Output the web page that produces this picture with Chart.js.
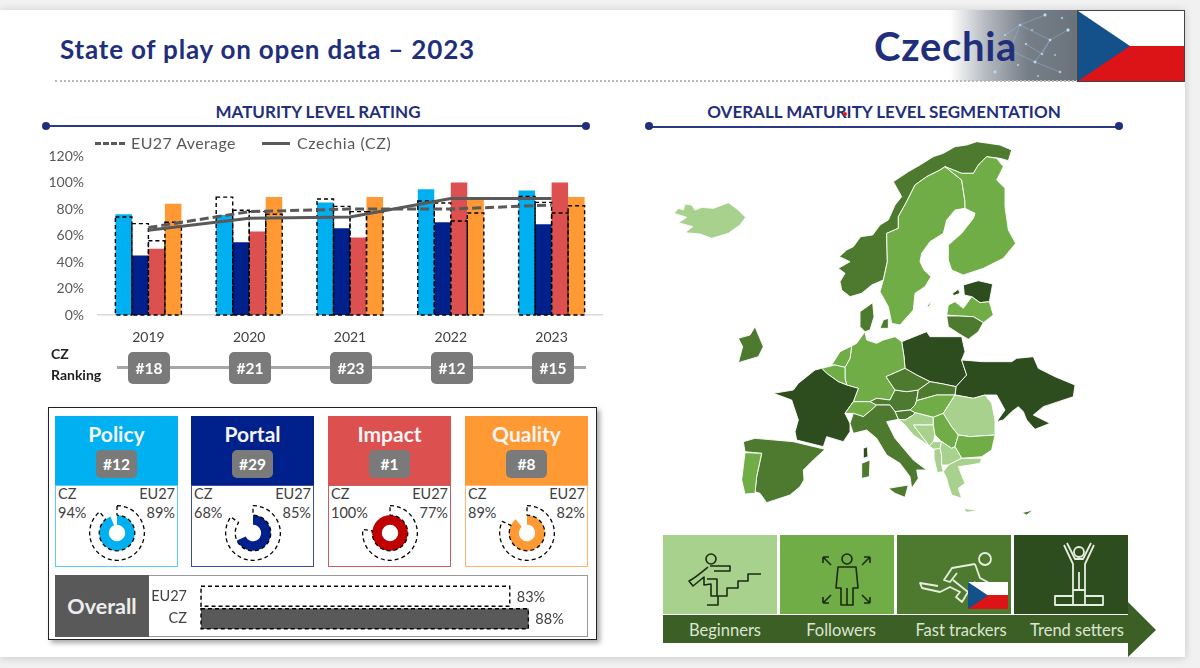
<!DOCTYPE html>
<html><head><meta charset="utf-8">
<script src="https://cdn.jsdelivr.net/npm/chart.js@4/dist/chart.umd.min.js"></script>
<style>
*{box-sizing:border-box}
html,body{margin:0;padding:0;width:1200px;height:668px;overflow:hidden;background:#f1f1f1;font-family:Lato,sans-serif}
.abs,canvas{position:absolute}
#card{position:absolute;left:0;top:10px;width:1185px;height:647px;background:#fff;box-shadow:0 1px 8px rgba(0,0,0,.18)}
.t{position:absolute;white-space:nowrap;line-height:1}
.head{color:#1F2F7C;font-weight:700;font-size:17px;text-align:center}
.rule{position:absolute;height:2px;background:#2A3A85}
.dot{position:absolute;width:8px;height:8px;border-radius:50%;background:#1F2F7C}
.badge{position:absolute;background:#7A7A7A;color:#fff;font-weight:700;border-radius:5px;display:flex;align-items:center;justify-content:center}
.cardhd{position:absolute;height:69px;width:123px;top:416px}
.cardbd{position:absolute;height:82px;width:123px;top:485px;background:#fff;border:1px solid}
.lab{position:absolute;font-size:14.5px;color:#404040;white-space:nowrap;line-height:1}
.seg{position:absolute;top:535px;height:79px;width:114px}
.segl{position:absolute;top:622px;color:#DCE6D2;font-size:16.5px;white-space:nowrap;transform:translateX(-50%);line-height:1}
</style></head><body>
<div id="card"></div>

<div class="t" style="left:60px;top:36px;font-size:26px;font-weight:700;color:#1F2F7C;letter-spacing:.8px">State of play on open data – 2023</div>
<div class="abs" style="left:950px;top:10px;width:128px;height:71px;background:linear-gradient(90deg,#fff 0%,#b5bac0 28%,#767e88 60%,#6a727c 100%)"></div>
<svg class="abs" style="left:950px;top:10px" width="128" height="71"><g stroke="#9fc6e8" stroke-width=".4" fill="#c4e3fb"><path d="M45 62L60 40L85 52L100 30L118 20M60 40L70 15L100 30M85 52L110 62M70 15L95 5M55 25L70 15M92 44L100 30M76 34L92 44" fill="none"/><circle cx="45" cy="62" r="1.4"/><circle cx="60" cy="40" r="1.1"/><circle cx="85" cy="52" r="1.3"/><circle cx="100" cy="30" r="1.2"/><circle cx="118" cy="20" r="1.5"/><circle cx="70" cy="15" r="1.1"/><circle cx="95" cy="5" r="1.4"/><circle cx="110" cy="62" r="1.1"/><circle cx="76" cy="34" r="1"/><circle cx="92" cy="44" r="1"/><circle cx="55" cy="25" r=".9"/><circle cx="82" cy="20" r=".8"/><circle cx="105" cy="45" r=".8"/><circle cx="68" cy="55" r=".9"/><circle cx="112" cy="8" r=".9"/><circle cx="88" cy="66" r=".8"/></g></svg>
<div class="t" style="left:874px;top:26px;font-size:40px;font-weight:700;color:#1F2F7C;letter-spacing:.7px">Czechia</div>
<div class="abs" style="left:55px;top:80px;width:1023px;border-top:2px dotted #b8b8b8"></div>
<svg class="abs" style="left:1077px;top:10px" width="108" height="72"><rect x="1" y="1" width="106" height="70" fill="#fff"/><rect x="1" y="36" width="106" height="35" fill="#DC1418"/><path d="M1 1L53 36L1 71Z" fill="#14508A"/><rect x=".5" y=".5" width="107" height="71" fill="none" stroke="#444"/></svg>

<div class="t head" style="left:46px;width:544px;top:103px">MATURITY LEVEL RATING</div>
<div class="rule" style="left:46px;width:540px;top:125px"></div><div class="dot" style="left:42px;top:122px"></div><div class="dot" style="left:582px;top:122px"></div>
<div class="t head" style="left:649px;width:470px;top:103px">OVERALL MATURITY LEVEL SEGMENTATION</div>
<div class="rule" style="left:649px;width:470px;top:126px"></div><div class="dot" style="left:645px;top:122px"></div><div class="dot" style="left:1115px;top:122px"></div>
<div class="abs" style="left:843px;top:112px;width:4px;height:4px;border-radius:50%;background:#d02020"></div>

<canvas id="main" style="left:40px;top:146px" width="570" height="200"></canvas>
<div class="abs" style="left:95px;top:142px;width:30px;border-top:3px dashed #595959"></div>
<div class="t" style="left:131px;top:135px;font-size:16px;color:#595959;letter-spacing:.4px">EU27 Average</div>
<div class="abs" style="left:262px;top:142px;width:28px;height:3px;background:#595959"></div>
<div class="t" style="left:297px;top:135px;font-size:16px;color:#595959;letter-spacing:.6px">Czechia (CZ)</div>

<div class="t" style="left:51px;top:347px;font-size:14px;font-weight:700;color:#222">CZ</div>
<div class="t" style="left:51px;top:368px;font-size:14px;font-weight:700;color:#222">Ranking</div>
<div class="abs" style="left:117px;top:366px;width:469px;height:3px;background:#A6A6A6"></div>
<div id="ranks"></div>

<div class="abs" style="left:48px;top:407px;width:549px;height:233px;background:#fff;border:1.5px solid #222;box-shadow:3px 3px 5px rgba(0,0,0,.35)"></div>
<div id="cards"></div>

<div class="abs" style="left:55px;top:575px;width:533px;height:62px;border:1px solid #999;background:#fff"></div>
<div class="abs" style="left:55px;top:575px;width:94px;height:62px;background:#595959;color:#EDEDED;font-weight:700;font-size:21.5px;display:flex;align-items:center;justify-content:center">Overall</div>
<canvas id="overall" style="left:150px;top:585px" width="423" height="45"></canvas>

<canvas id="map" style="left:650px;top:130px" width="450" height="400"></canvas>

<div class="seg" style="left:663px;background:#A9D18E"></div>
<div class="seg" style="left:780px;background:#70AD47"></div>
<div class="seg" style="left:897px;background:#4E7A2F"></div>
<div class="seg" style="left:1014px;background:#2E4D1E"></div>
<svg class="abs" style="left:660px;top:530px" width="500" height="135">
 <path d="M3 85H468V72L496 100L468 127V113H3Z" fill="#3C5F26"/>
 <g fill="none" stroke="#1c2a12" stroke-width="1.6" stroke-linejoin="round">
  <circle cx="51" cy="29" r="5"/><path d="M47 75H58V66H67V58H78V51H88V44H101"/>
  <path d="M48 37C42 42 35 48 29 51L33 56L44 47V55L51 54V66H57V49H47M50 36H70V41H54"/>
  <circle cx="187" cy="29" r="5"/><path d="M178 37H196L198 58H193V75H181V58H176ZM187 58V75"/><path d="M163 27L171 35M163 27H169M163 27V33M210 27L202 35M210 27H204M210 27V33M163 73L171 65M163 73H169M163 73V67M210 73L202 65M210 73H204M210 73V67"/>
 </g>
 <g fill="none" stroke="#E6EEDF" stroke-width="1.8" stroke-linejoin="round">
  <circle cx="325" cy="29" r="6"/><path d="M315 34L292 38L284 50L290 52L297 43M315 34L320 48L333 55L331 59L314 52M293 50L308 62L302 72L296 67L300 62L290 57L280 62L262 58L260 53L278 56"/>
  <circle cx="419" cy="22" r="5"/><path d="M404 15L413 34V60H425V34L434 15M407 13L415 29H423L431 13M419 42V60M413 60H425V75H413ZM413 66H395V75H443V66H425"/>
 </g>
</svg>
<svg class="abs" style="left:968px;top:582px" width="40" height="27"><rect width="40" height="27" fill="#fff"/><rect y="13" width="40" height="14" fill="#DC1418"/><path d="M0 0L20 13.5L0 27Z" fill="#14508A"/></svg>
<div class="segl" style="left:725px">Beginners</div><div class="segl" style="left:841px">Followers</div><div class="segl" style="left:961px">Fast trackers</div><div class="segl" style="left:1077px">Trend setters</div>

<script>
// ---- data ----
const years = ['2019','2020','2021','2022','2023'];
const yTicks = [0,20,40,60,80,100,120];
const czPolicy  = [76,75.5,85,95,94];
const czPortal  = [45,55,65.5,70,68.5];
const czImpact  = [50,63,58.5,100,100];
const czQuality = [84,89,89,88,89];
const euPolicy  = [74,89,87.5,86,89.5];
const euPortal  = [69,79,82,84.5,85];
const euImpact  = [56,78,78,71,77];
const euQuality = [70,76,78,77,82.5];
const euAverage = [66,78,80,80,83];
const czOverall = [64,73,74,88,88];
const ranks = ['#18','#21','#23','#12','#15'];
const dims = ['Policy','Portal','Impact','Quality'];
const dimRanks = ['#12','#29','#1','#8'];
const dimCz = [94,68,100,89];
const dimEu = [89,85,77,82];
const overallLabels = ['EU27','CZ'];
const overallVals = [83,88];

// traced country outlines in map units (one unit = 1/3 px)
const mapLight = '#A9D18E', mapMid = '#70AD47', mapDark = '#4E7A2F', mapDeep = '#2E4D1E';
const iceland = [72,250,85,235,100,240,105,222,125,225,135,240,155,232,190,235,235,218,265,240,287,262,270,285,235,310,185,325,150,312,105,308,128,290,85,278,110,262];
const norway = [600,500,575,480,570,455,585,430,565,415,600,395,568,380,590,360,610,350,632,320,668,315,690,285,715,270,735,225,755,200,730,155,775,125,810,105,850,80,880,70,915,50,950,45,980,35,1015,40,1050,45,1085,60,1075,92,1050,85,1010,80,985,105,970,130,935,130,885,110,870,120,830,140,795,165,770,215,745,260,745,295,710,310,712,395,700,450,665,465,635,490];
const sweden = [745,295,745,260,770,215,795,165,830,140,870,120,885,110,935,150,945,215,945,235,915,240,890,270,880,310,840,335,815,370,810,395,822,420,843,440,825,470,795,490,790,540,750,585,725,580,715,530,690,485,700,450,712,395,710,310];
const finland = [885,110,935,130,970,130,985,105,1010,80,1040,85,1060,110,1040,150,1065,175,1065,230,1075,300,1097,340,1060,385,1000,415,940,435,905,420,895,390,895,345,935,310,970,265,975,250,945,235,945,215,935,150];
const gotland = [830,530,845,510,838,530];
const estonia = [940,465,985,452,1028,462,1018,515,990,518,965,500,943,495];
const saaremaa = [908,490,925,478,930,490,910,497];
const latvia = [890,555,895,525,915,515,940,535,965,500,990,518,1018,515,1030,555,1000,578,970,560,925,558];
const lithuania = [890,558,925,558,970,560,1000,578,985,605,955,628,925,610,895,590];
const poland = [755,635,830,605,840,620,935,620,945,665,935,690,950,735,918,770,880,762,840,755,800,735,765,715,762,680];
const ukraine = [935,690,1000,695,1085,695,1100,685,1150,680,1165,715,1215,740,1275,765,1270,800,1225,815,1180,830,1150,855,1200,880,1155,898,1130,870,1120,845,1105,830,1085,845,1060,870,1040,875,1065,840,1040,795,1005,795,970,805,915,795,918,770,950,735];
const germany = [645,605,650,630,680,640,700,630,735,620,755,635,762,680,765,715,708,740,735,780,720,810,680,805,660,815,610,815,625,775,590,765,585,745,585,712,600,685,605,648,620,640];
const denmark = [630,590,630,545,668,518,672,560,660,600,645,605];
const zealand = [690,595,700,570,715,565,715,595];
const netherlands = [545,705,570,665,605,648,600,685,585,712,555,705];
const belgium = [515,715,555,705,585,712,585,745,590,765,565,755,530,730];
const france = [370,790,430,780,445,760,495,720,515,715,530,730,565,755,590,765,625,775,610,815,585,850,600,880,600,905,580,935,530,920,520,950,440,930,435,905,445,870,425,810];
const corsica = [640,955,652,950,654,980,640,985];
const swiss = [585,850,610,815,660,815,680,825,670,835,640,860,610,850];
const austria = [660,815,680,805,720,810,735,780,770,785,805,780,800,812,795,825,780,840,735,845,720,825,680,825];
const czechia = [708,740,765,715,800,735,840,755,805,780,770,785,735,780];
const slovakia = [840,755,880,762,918,770,915,795,860,795,800,812,805,780];
const hungary = [800,812,860,795,915,795,880,850,850,862,795,848,780,840,795,825];
const slovenia = [735,845,780,840,795,848,790,855,765,870,745,868];
const croatia = [745,868,765,870,790,855,795,848,850,862,850,885,790,885,838,948,790,915,765,885];
const bosnia = [790,885,850,885,855,915,850,935,838,948];
const serbia = [850,862,880,850,905,890,925,915,915,950,905,955,875,935,855,915,850,885];
const romania = [880,850,915,795,970,805,1005,795,1025,820,1035,870,1035,915,960,920,925,915,905,890];
const bulgaria = [925,915,960,920,1035,915,1025,960,995,980,935,985,915,950];
const montenegro = [838,948,850,935,875,935,870,955,852,958];
const albania = [852,958,870,955,875,975,875,1005,880,1025,862,1028,852,985];
const macedonia = [870,955,875,935,905,955,915,950,935,985,895,1005,875,1005,875,975];
const greece = [880,1025,895,1005,935,985,995,985,990,1000,960,1005,925,1010,945,1060,925,1075,935,1105,905,1095,895,1065,890,1045];
const crete = [940,1135,985,1142,950,1147];
const cyprus = [1115,1148,1150,1140,1130,1155];
const italy = [600,880,610,850,640,860,670,835,680,825,720,825,735,845,745,868,710,875,735,925,790,990,830,1020,800,1020,805,1045,785,1075,780,1040,750,1000,710,975,680,925,650,900,610,910];
const sicily = [715,1075,775,1065,765,1102,735,1090];
const sardinia = [635,1000,660,990,658,1040,635,1045];
const spain = [280,935,315,925,430,935,525,958,490,990,460,1020,462,1050,450,1070,420,1095,350,1118,330,1090,315,1085,320,1040,335,970,285,965];
const portugal = [285,968,335,970,320,1040,315,1090,285,1092,275,1050];
const ireland = [265,625,300,615,315,590,340,650,325,680,265,698,278,650];
const mapShapes = [
 [iceland,mapLight],[norway,mapDark],[sweden,mapMid],[finland,mapMid],[gotland,mapMid],[estonia,mapDeep],[saaremaa,mapDeep],[latvia,mapMid],[lithuania,mapDark],
 [poland,mapDeep],[ukraine,mapDeep],[germany,mapMid],[denmark,mapDark],[zealand,mapDark],[netherlands,mapMid],[belgium,mapMid],[france,mapDeep],[corsica,mapDeep],
 [swiss,mapMid],[austria,mapDark],[czechia,mapDark],[slovakia,mapDark],[hungary,mapMid],[slovenia,mapDark],[croatia,mapLight],[bosnia,mapLight],[serbia,mapMid],
 [romania,mapLight],[bulgaria,mapMid],[montenegro,mapLight],[albania,mapLight],[macedonia,mapLight],[greece,mapLight],[crete,mapLight],[cyprus,mapDark],[italy,mapDark],[sicily,mapDark],
 [sardinia,mapDark],[spain,mapDark],[portugal,mapMid],[ireland,mapDark]];

// ---- style ----
const FONT='Lato, sans-serif';
const cPolicy='#00B0F0', cPortal='#00208C', cImpact='#DC5050', cQuality='#FF9933', cGrey='#595959';
const dimColors=[cPolicy,cPortal,cImpact,cQuality];
const dimRing=[cPolicy,cPortal,'#C00000',cQuality];
const dimLefts=[55,191,328,465];

const dashedBars={id:'dashedBars',afterDatasetDraw(chart,args){
  const ds=chart.data.datasets[args.index]; if(!ds.dashOutline) return;
  const ctx=chart.ctx; ctx.save(); ctx.setLineDash(ds.dashOutline); ctx.lineWidth=1.4; ctx.strokeStyle=ds.dashColor||'#000';
  chart.getDatasetMeta(args.index).data.forEach(b=>{
    const p=b.getProps(['x','y','base','width','height'],true);
    if(b.horizontal) ctx.strokeRect(p.base,p.y-p.height/2,p.x-p.base,p.height);
    else ctx.strokeRect(p.x-p.width/2,p.y,p.width,p.base-p.y);
  });
  ctx.restore();
}};

const barOpts={type:'bar',barPercentage:1,categoryPercentage:.655,order:3};
const dashOpts={type:'bar',barPercentage:1,categoryPercentage:.655,order:2,backgroundColor:'transparent',dashOutline:[4,3]};
new Chart(document.getElementById('main'),{
 data:{labels:years,datasets:[
  {...barOpts,stack:'policy',label:'Policy',data:czPolicy,backgroundColor:cPolicy},
  {...barOpts,stack:'portal',label:'Portal',data:czPortal,backgroundColor:cPortal},
  {...barOpts,stack:'impact',label:'Impact',data:czImpact,backgroundColor:cImpact},
  {...barOpts,stack:'quality',label:'Quality',data:czQuality,backgroundColor:cQuality},
  {...dashOpts,stack:'policy',label:'Policy EU27',data:euPolicy},
  {...dashOpts,stack:'portal',label:'Portal EU27',data:euPortal},
  {...dashOpts,stack:'impact',label:'Impact EU27',data:euImpact},
  {...dashOpts,stack:'quality',label:'Quality EU27',data:euQuality},
  {type:'line',label:'EU27 Average',data:euAverage,borderColor:cGrey,borderWidth:3,borderDash:[9,4],pointRadius:0,tension:0,order:1,fill:false},
  {type:'line',label:'Czechia (CZ)',data:czOverall,borderColor:cGrey,borderWidth:3,pointRadius:0,tension:0,order:0,fill:false}
 ]},
 options:{responsive:false,animation:false,
  layout:{padding:{top:10,right:8,left:0,bottom:0}},
  plugins:{legend:{display:false},tooltip:{enabled:false}},
  scales:{
   x:{grid:{display:false,drawTicks:false},border:{color:'#D9D9D9',width:1.5},ticks:{padding:14,font:{family:FONT,size:14},color:'#404040',maxRotation:0},afterFit(s){s.height=31;s.paddingLeft=0;s.paddingRight=0}},
   y:{stacked:false,min:0,max:120,grid:{display:false,drawTicks:false},border:{display:false},afterBuildTicks(s){s.ticks=yTicks.map(v=>({value:v}))},
      ticks:{padding:14,font:{family:FONT,size:14},color:'#595959',callback:v=>v+'%'},afterFit(s){s.width=58;s.paddingTop=0;s.paddingBottom=0}}
  }},
 plugins:[dashedBars]
});

// rank badges
const rankCenters=[149,250,351,452,553];
document.getElementById('ranks').innerHTML=ranks.map((r,i)=>`<div class="badge" style="left:${rankCenters[i]-21}px;top:352px;width:42px;height:32px;font-size:15.5px">${r}</div>`).join('');

// dimension cards
const cardsEl=document.getElementById('cards');
dims.forEach((d,i)=>{
  const L=dimLefts[i];
  const borders=['#5CCBF2','#3B4E9E','#C06060','#FFB470'];
  cardsEl.insertAdjacentHTML('beforeend',
  `<div class="cardhd" style="left:${L}px;background:${dimColors[i]}"></div>
   <div class="cardbd" style="left:${L}px;border-color:${borders[i]}"></div>
   <div class="t" style="left:${L}px;width:123px;text-align:center;top:423px;font-size:21px;font-weight:700;color:#F4F4F4">${d}</div>
   <div class="badge" style="left:${L+41}px;top:450px;width:41px;height:28px;font-size:15.5px">${dimRanks[i]}</div>
   <div class="lab" style="left:${L+3}px;top:487px">CZ</div>
   <div class="lab" style="left:${L+3}px;top:506px">${dimCz[i]}%</div>
   <div class="lab" style="left:${L+73}px;width:47px;text-align:right;top:487px">EU27</div>
   <div class="lab" style="left:${L+73}px;width:47px;text-align:right;top:506px">${dimEu[i]}%</div>
   <canvas id="ring${i}" width="58" height="58" style="left:${L+33}px;top:504px"></canvas>`);
});
dims.forEach((d,i)=>{
  new Chart(document.getElementById('ring'+i),{type:'doughnut',
   data:{labels:['value','rest'],datasets:[
     {label:'EU27',data:[dimEu[i],100-dimEu[i]],backgroundColor:['transparent','transparent'],borderColor:['#000','transparent'],borderWidth:[1.3,0],borderDash:[4,3],order:0},
     {label:'CZ',data:[dimCz[i],100-dimCz[i]],backgroundColor:[dimRing[i],'transparent'],borderWidth:0,order:1}
   ]},
   options:{responsive:false,animation:false,cutout:'30%',layout:{padding:1},plugins:{legend:{display:false},tooltip:{enabled:false}}}
  });
});

// overall bars
const valueLabels={id:'valueLabels',afterDatasetsDraw(chart){
  const c=chart.ctx; c.save(); c.font='14.5px '+FONT; c.fillStyle='#404040'; c.textBaseline='middle';
  chart.getDatasetMeta(0).data.forEach((b,i)=>c.fillText(overallVals[i]+'%',b.x+7,b.y+1)); c.restore();
}};
new Chart(document.getElementById('overall'),{type:'bar',
 data:{labels:overallLabels,datasets:[{label:'Overall',data:overallVals,barThickness:20,
   backgroundColor:['transparent',cGrey],dashOutline:[4,3],dashColor:'#000'}]},
 options:{indexAxis:'y',responsive:false,animation:false,layout:{padding:0},
  plugins:{legend:{display:false},tooltip:{enabled:false}},
  scales:{x:{display:false,min:0,max:100},
   y:{grid:{display:false,drawTicks:false},border:{color:'#DDD'},ticks:{padding:14,font:{family:FONT,size:14.5},color:'#404040'},afterFit(s){s.width=51;s.paddingTop=0;s.paddingBottom=0}}}},
 plugins:[dashedBars,valueLabels]
});

// map: each country is a dataset; its outline is filled through the chart's own scales
const toPoints=a=>{const r=[];for(let i=0;i<a.length;i+=2)r.push({x:a[i],y:a[i+1]});return r;};
const mapFill={id:'mapFill',afterDatasetsDraw(chart){
  const {ctx,scales:{x,y}}=chart; ctx.save();
  chart.data.datasets.forEach(ds=>{
    ctx.beginPath();
    ds.data.forEach((p,i)=>{const px=x.getPixelForValue(p.x),py=y.getPixelForValue(p.y); i?ctx.lineTo(px,py):ctx.moveTo(px,py);});
    ctx.closePath(); ctx.fillStyle=ds.backgroundColor; ctx.fill();
    ctx.strokeStyle='#fff'; ctx.lineWidth=.9; ctx.lineJoin='round'; ctx.stroke();
  });
  ctx.restore();
}};
new Chart(document.getElementById('map'),{type:'scatter',
 data:{datasets:mapShapes.map(([pts,col])=>({data:toPoints(pts),backgroundColor:col,pointRadius:0}))},
 options:{responsive:false,animation:false,layout:{padding:0},plugins:{legend:{display:false},tooltip:{enabled:false}},
  scales:{x:{display:false,min:0,max:1350},y:{display:false,reverse:true,min:0,max:1200}}},
 plugins:[mapFill]
});
</script>
</body></html>
